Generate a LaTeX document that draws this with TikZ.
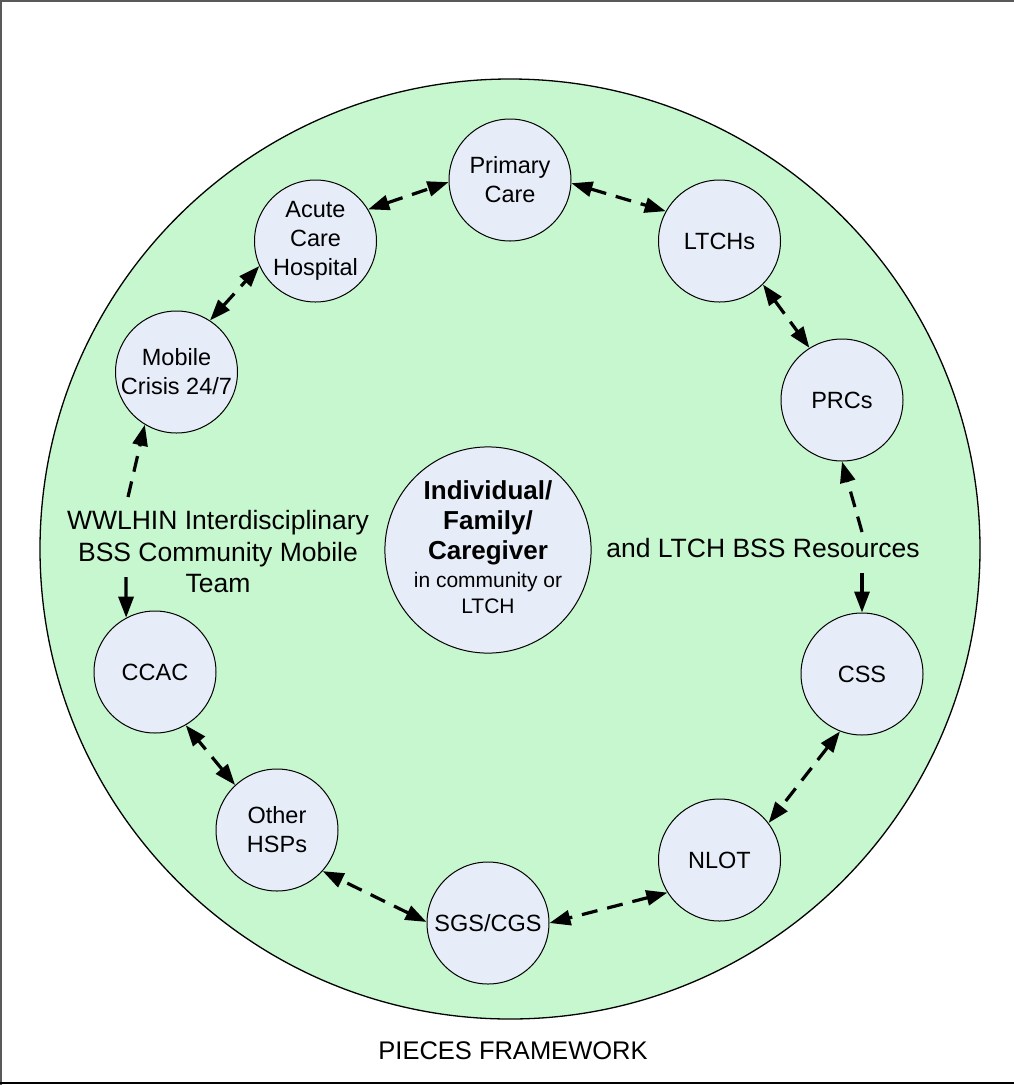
\documentclass[tikz,border=0pt]{standalone}
\usepackage{fontspec}
\setmainfont{Liberation Sans}
\usetikzlibrary{arrows.meta}
\definecolor{biggreen}{HTML}{C6F7CE}
\definecolor{nodefill}{HTML}{E6ECF8}
\begin{document}
\begin{tikzpicture}[x=1pt,y=-1pt,
  small/.style={circle, draw=black, line width=1pt, fill=nodefill, minimum size=122pt, inner sep=0pt, align=center, font=\fontsize{23.5}{29}\selectfont},
  conn/.style={line width=3.2pt, dash pattern=on 16pt off 10pt, {Triangle[length=21pt,width=15pt]}-{Triangle[length=21pt,width=15pt]}},
  oneway/.style={line width=3.2pt, dash pattern=on 16pt off 10pt, -{Triangle[length=21pt,width=15pt]}},
  shortway/.style={line width=3.2pt, -{Triangle[length=21pt,width=15pt]}},
  lbl/.style={align=center, inner sep=0pt, font=\fontsize{26.5}{31.5}\selectfont}
]
\useasboundingbox (0,0) rectangle (1014,1085);
\draw[gray!70!black, line width=1.5pt] (1,1085) -- (1,1) -- (1014,1);
\draw[black, line width=1.5pt] (0,1083) -- (1014,1083);
\draw[fill=biggreen, line width=1.3pt] (510,549) circle[radius=470pt];

\node[small] (primary) at (510,180) {Primary\\Care};
\node[small] (ltch) at (719.5,241) {LTCHs};
\node[small] (prc) at (842,400) {PRCs};
\node[small] (css) at (862,674) {CSS};
\node[small] (nlot) at (719.5,860) {NLOT};
\node[small] (sgs) at (488,923) {SGS/CGS};
\node[small] (other) at (277,830) {Other\\HSPs};
\node[small] (ccac) at (155,672) {CCAC};
\node[small] (mobile) at (176.5,372) {Mobile\\Crisis 24/7};
\node[small] (acute) at (315.5,241) {Acute\\Care\\Hospital};

\node[circle, draw=black, line width=1pt, fill=nodefill, minimum size=206pt, inner sep=0pt, font=\fontsize{26}{30}\selectfont] (center) at (488,550)
  {\begin{tabular}{@{}c@{}}
   \bfseries Individual/\\
   \bfseries Family/\\
   \bfseries Caregiver\\[-2pt]
   \fontsize{21}{26}\selectfont in community or\\[-4pt]
   \fontsize{21}{26}\selectfont LTCH
   \end{tabular}};

\draw[conn] (acute.31) -- (primary.182);
\draw[conn] (primary.-3) -- (ltch.151);
\draw[conn] (ltch.-45) -- (prc.122);
\draw[conn] (css.249) -- (nlot.37);
\draw[conn] (nlot.212) -- (sgs.0);
\draw[conn] (sgs.179) -- (other.-42);
\draw[conn] (other.133) -- (ccac.-60);
\draw[conn] (mobile.57) -- (acute.204);

\node[lbl, anchor=base] (ltchbss) at (763,557) {and LTCH BSS Resources};
\coordinate (rtop) at (862,532);
\coordinate (rbot) at (862,573);
\draw[oneway] (rtop) -- (prc.-90);
\draw[shortway] (rbot) -- (css.90);

\node[lbl] (wwl) at (218,552) {WWLHIN Interdisciplinary\\BSS Community Mobile\\Team};
\coordinate (wtop) at (128,497);
\coordinate (wbot) at (126,577);
\draw[oneway] (wtop) -- (mobile.239);
\draw[shortway] (wbot) -- (ccac.118);

\node[font=\fontsize{25.5}{30}\selectfont, anchor=base] (title) at (513,1059) {PIECES FRAMEWORK};
\end{tikzpicture}
\end{document}
